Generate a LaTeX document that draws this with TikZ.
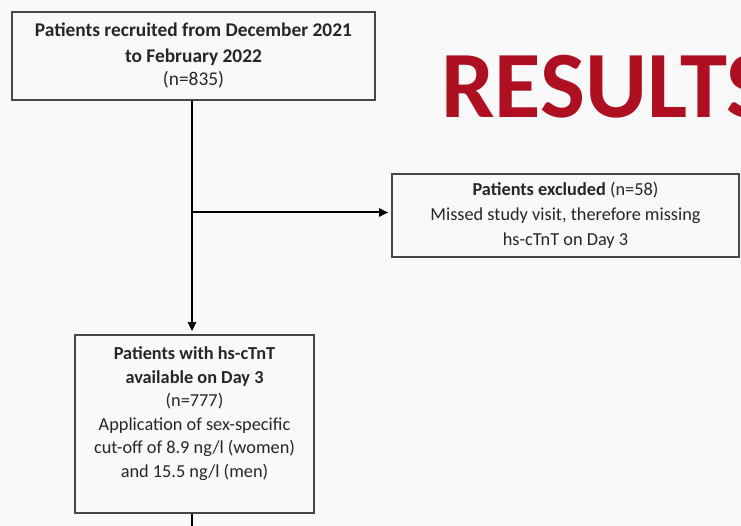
\documentclass[tikz,border=0pt]{standalone}
\usepackage{fontspec}
\setmainfont{Carlito}
\usetikzlibrary{arrows.meta}
\definecolor{bgc}{HTML}{F9F9F9}
\definecolor{resred}{HTML}{AE1022}
\definecolor{txt}{HTML}{262626}
\tikzset{
  flowbox/.style={draw=black!72, line width=1.6pt, fill=bgc, align=center, inner sep=0pt, text=txt,
    font=\fontsize{18.3}{24}\selectfont},
  conn/.style={line width=2pt, black},
  arr/.style={conn, -{Triangle[length=9pt,width=8pt]}, shorten >=3pt}
}
\begin{document}
\begin{tikzpicture}[x=1pt,y=-1pt]
\fill[bgc] (0,0) rectangle (741,526);
\useasboundingbox (0,0) rectangle (741,526);
\clip (0,0) rectangle (741,526);
\node[anchor=base west, text=resred, font=\fontsize{95}{95}\bfseries\selectfont, inner sep=0pt] (title) at (441,118) {RESULTS};
\node[flowbox, font=\fontsize{19.4}{23.5}\selectfont, minimum width=363pt, minimum height=88pt] (top) at (193.5,56)
  {\textbf{Patients recruited from December 2021}\\[2pt]\textbf{to February 2022}\\(n=835)};
\node[flowbox, font=\fontsize{18.3}{25}\selectfont, minimum width=347pt, minimum height=83pt] (ex) at (565.5,215.5)
  {\textbf{Patients excluded} (n=58)\\Missed study visit, therefore missing\\hs-cTnT on Day 3};
\node[flowbox, font=\fontsize{18.3}{23.5}\selectfont, minimum width=239pt, minimum height=178pt] (av) at (194.5,424)
  {\textbf{Patients with hs-cTnT}\\\textbf{available on Day 3}\\(n=777)\\Application of sex-specific\\cut-off of 8.9 ng/l (women)\\and 15.5 ng/l (men)\\~};
\coordinate (j) at (192,212.5);
\coordinate (bot) at (192,528);
\draw[conn] (top.south -| j) -- (j);
\draw[arr] (j) -- (ex.west |- j);
\draw[arr] (j) -- (av.north -| j);
\draw[conn] (av.south -| j) -- (bot);
\end{tikzpicture}
\end{document}
